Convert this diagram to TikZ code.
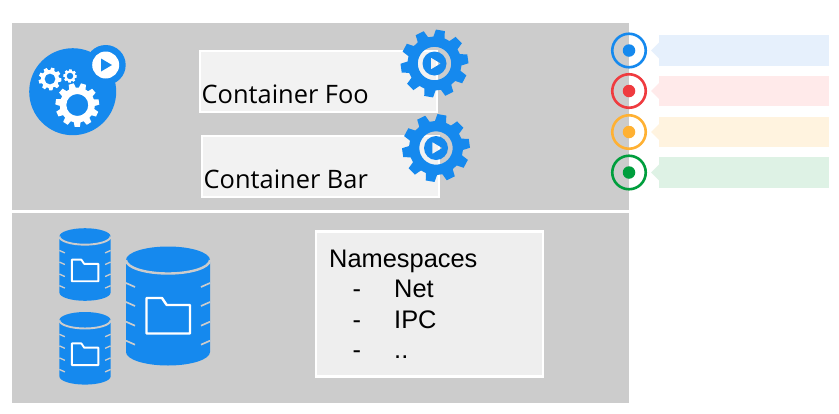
\documentclass[tikz,border=0pt]{standalone}
\usepackage{fontspec}
\setmainfont{Liberation Sans}
\newfontfamily\opensans{Open Sans}
\definecolor{panelgray}{HTML}{CCCCCC}
\definecolor{kblue}{HTML}{1589EE}
\definecolor{kred}{HTML}{EF3B3F}
\definecolor{korange}{HTML}{FFB133}
\definecolor{kgreen}{HTML}{009E3D}
\definecolor{lblue}{HTML}{E6F0FC}
\definecolor{lred}{HTML}{FFEAEA}
\definecolor{lorange}{HTML}{FFF3DF}
\definecolor{lgreen}{HTML}{DEF2E5}
\tikzset{
  panel/.style={fill=panelgray,draw=none,anchor=north west,inner sep=0pt,minimum width=617,minimum height=#1},
  ctrbox/.style={fill=black!5,draw=white,line width=2pt,anchor=north west,inner sep=0pt,minimum width=237,minimum height=61},
  nsbox/.style={fill=black!6.5,draw=white,line width=2.5pt,anchor=north west,inner sep=0pt,minimum width=227,minimum height=145},
  ctrtext/.style={anchor=base west,inner sep=0pt,font=\opensans\fontsize{25.4}{25.4}\selectfont,text=black},
  nstext/.style={anchor=base west,inner sep=0pt,font=\fontsize{25.4}{25.4}\selectfont,text=black},
  ring/.style={circle,draw=#1,line width=2.6pt,fill=none,minimum size=33.5,inner sep=0pt},
  dot/.style={circle,fill=#1,draw=none,minimum size=12.5,inner sep=0pt},
  tag/.style={fill=#1,draw=none,anchor=west,inner sep=0pt,minimum width=169.5,minimum height=30.5},
}
% options, outer radius, body radius, teeth, rotation, extra sub-paths
\newcommand\gearshape[6]{%
  \pgfmathsetmacro\gs{360/#4}%
  \fill[#1,even odd rule] ({#5-.34*\gs}:#3)
    \foreach \gi in {0,...,\numexpr#4-1\relax}{
      -- ({#5+\gi*\gs-.34*\gs}:#3) -- ({#5+\gi*\gs-.21*\gs}:#2)
      -- ({#5+\gi*\gs+.21*\gs}:#2) -- ({#5+\gi*\gs+.34*\gs}:#3)
    } -- cycle #6;%
}
% cx, cy, scale, line width
\newcommand\drum[4]{%
  \begin{scope}[shift={(#1,#2)},scale=#3]
    \fill[kblue] (-42,-46) -- (42,-46)
      -- (42,46) arc[x radius=42,y radius=13.5,start angle=0,end angle=180] -- cycle;
    \fill[kblue] (-42,-46) arc[x radius=42,y radius=13.5,start angle=-180,end angle=180];
    \draw[panelgray,line width=#4] (-42,-46) arc[x radius=42,y radius=13.5,start angle=180,end angle=0];
    \foreach \ty in {-23,-4,15.7,34.7}{
      \draw[panelgray,line width=.7*#4] (-42,\ty) -- (-33,\ty+4);
      \draw[panelgray,line width=.7*#4] (42,\ty) -- (33,\ty+4);
    }
    \draw[white,line width=#4,line join=round,fill=kblue] (-21.5,-8) -- (-6,-8) -- (-1.3,-1) -- (22,-1) -- (22,27.5) -- (-21.5,27.5) -- cycle;
  \end{scope}%
}
\begin{document}
\begin{tikzpicture}[x=1pt,y=-1pt]
\useasboundingbox (0,0) rectangle (839,413);
\fill[white] (0,0) rectangle (839,413);
\node[panel=187.5] (top) at (12,22.5) {};
\node[panel=190] (bottom) at (12,213) {};

% logo
\node[circle,fill=kblue,minimum size=87,inner sep=0pt] (logo) at (72.7,91.7) {};
\node[circle,fill=kblue,minimum size=40,inner sep=0pt] (logobadge) at (105.7,65) {};
\node[circle,fill=white,minimum size=27,inner sep=0pt] (logodisk) at (105.7,65) {};
\fill[kblue] (101,58.5) -- (112,65) -- (101,71.5) -- cycle;
\begin{scope}[shift={(77.3,105)}]\gearshape{white}{22}{17.5}{11}{-8}{(0,0) circle (11)}\end{scope}
\begin{scope}[shift={(50,79)}]\gearshape{white}{11.5}{9}{9}{5}{(0,0) circle (5.5)}\end{scope}
\begin{scope}[shift={(70,76)}]\gearshape{white}{6.8}{5.4}{8}{5}{(0,0) circle (3.4)}\end{scope}

% containers
\node[ctrbox] (foo) at (198.5,50) {};
\node[ctrbox] (bar) at (200.5,135) {};
\node[ctrtext] (footext) at (201.5,103) {Container Foo};
\node[ctrtext] (bartext) at (203.5,188) {Container Bar};
\begin{scope}[shift={(434.5,63.5)}]\gearshape{kblue}{34}{27}{10}{-8}{(0,0) circle (16.7) (0,0) circle (12) (-3.7,-6) -- (6.3,0) -- (-3.7,6) -- cycle}\end{scope}
\begin{scope}[shift={(436,148)}]\gearshape{kblue}{34}{27}{10}{-8}{(0,0) circle (16.7) (0,0) circle (12) (-3.7,-6) -- (6.3,0) -- (-3.7,6) -- cycle}\end{scope}

% volumes
\drum{85}{264.5}{.61}{1.9pt}
\drum{85}{348.3}{.61}{1.9pt}
\drum{168}{306}{1}{2.4pt}

% namespaces
\node[nsbox] (ns) at (314.5,230) {};
\node[nstext] (nstitle) at (329,267) {Namespaces};
\node[nstext] (d1) at (352.5,297.7) {-};
\node[nstext] (net) at (394,297.7) {Net};
\node[nstext] (d2) at (352.5,328) {-};
\node[nstext] (ipc) at (394,328) {IPC};
\node[nstext] (d3) at (352.5,358) {-};
\node[nstext] (dots) at (394,358) {..};

% side markers
\foreach \nm/\cy/\dk/\lt in {a/50.5/kblue/lblue,b/91/kred/lred,c/132/korange/lorange,d/172.5/kgreen/lgreen}{
  \node[ring=\dk] (ring\nm) at (629,\cy) {};
  \node[dot=\dk] (dot\nm) at (629,\cy) {};
  \node[tag=\lt] (tag\nm) at (659,\cy) {};
  \fill[\lt] (651,\cy) -- (659,\cy-8) -- (659,\cy+8) -- cycle;
}
\end{tikzpicture}
\end{document}
